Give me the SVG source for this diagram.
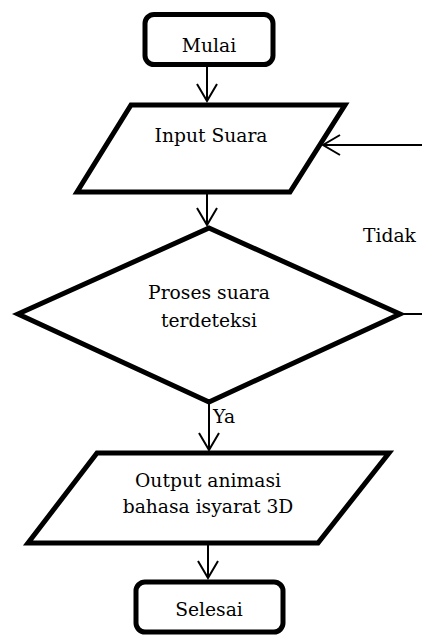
<svg xmlns="http://www.w3.org/2000/svg" width="422" height="637" viewBox="0 0 422 637">
<style>
.shape{fill:#fff;stroke:#000;stroke-width:5;stroke-linejoin:miter}
.lbl{font-family:'DejaVu Serif',serif;font-size:18.7px;fill:#000;text-anchor:middle}
.edge-lbl{font-family:'DejaVu Serif',serif;font-size:18.7px;fill:#000}
.conn{fill:none;stroke:#000;stroke-width:2}
</style>
<defs>
<marker id="arr" viewBox="-20 -12 22 24" refX="0" refY="0" markerWidth="22" markerHeight="24" markerUnits="userSpaceOnUse" orient="auto" overflow="visible">
<path d="M-17,-10 L0,0 L-17,10" fill="none" stroke="#000" stroke-width="2"/>
</marker>
</defs>
<g id="connectors">
<line class="conn" x1="207" y1="67" x2="207" y2="101" marker-end="url(#arr)"/>
<line class="conn" x1="207" y1="194" x2="207" y2="225" marker-end="url(#arr)"/>
<line class="conn" x1="209" y1="404" x2="209" y2="450" marker-end="url(#arr)"/>
<line class="conn" x1="208" y1="545" x2="208" y2="578" marker-end="url(#arr)"/>
<line class="conn" x1="400" y1="314" x2="422" y2="314"/>
<line class="conn" x1="422" y1="145" x2="323" y2="145" marker-end="url(#arr)"/>
<text class="edge-lbl" x="363" y="242">Tidak</text>
<text class="edge-lbl" x="213" y="423">Ya</text>
</g>
<g id="mulai">
<rect class="shape" x="145" y="14.5" width="128" height="50" rx="9"/>
<text class="lbl" x="209" y="52">Mulai</text>
</g>
<g id="input">
<polygon class="shape" points="131,105 345,105 290,192 77,192"/>
<text class="lbl" x="211" y="142">Input Suara</text>
</g>
<g id="proses">
<polygon class="shape" points="209,228 400,314 209,402 18,314"/>
<text class="lbl" x="209" y="299">Proses suara</text>
<text class="lbl" x="209" y="327">terdeteksi</text>
</g>
<g id="output">
<polygon class="shape" points="97,453 389,453 318,543 28,543"/>
<text class="lbl" x="208" y="487">Output animasi</text>
<text class="lbl" x="208" y="513">bahasa isyarat 3D</text>
</g>
<g id="selesai">
<rect class="shape" x="136" y="582" width="147" height="50" rx="9"/>
<text class="lbl" x="209" y="616">Selesai</text>
</g>
</svg>
